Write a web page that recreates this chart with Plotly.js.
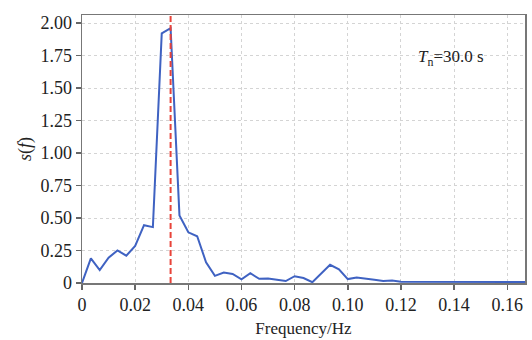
<!DOCTYPE html>
<html>
<head>
<meta charset="utf-8">
<script src="https://cdn.plot.ly/plotly-3.0.1.min.js"></script>
<style>html,body{margin:0;padding:0;background:#fff;}#chart{width:532px;height:340px;}</style>
</head>
<body>
<div id="chart"></div>
<script>
// Spectrum values at frequency step 1/300 Hz
var freqStep = 1 / 300;
var spectrum = [
  0.00, 0.19, 0.10, 0.195, 0.25, 0.21, 0.285, 0.445, 0.43, 1.92,
  1.96, 0.52, 0.39, 0.36, 0.16, 0.055, 0.08, 0.07, 0.028, 0.075,
  0.032, 0.035, 0.025, 0.015, 0.052, 0.038, 0.006, 0.075, 0.14, 0.105,
  0.03, 0.042, 0.035, 0.025, 0.015, 0.02, 0.01, 0.01, 0.01, 0.009,
  0.009, 0.008, 0.008, 0.008, 0.007, 0.007, 0.007, 0.007, 0.008, 0.007,
  0.008
];
var frequency = spectrum.map(function (_, i) { return i * freqStep; });
var peakFrequency = 1 / 30;
var xTickVals = [0, 0.02, 0.04, 0.06, 0.08, 0.10, 0.12, 0.14, 0.16];
var xTickText = ['0', '0.02', '0.04', '0.06', '0.08', '0.10', '0.12', '0.14', '0.16'];
var yTickVals = [0, 0.25, 0.5, 0.75, 1.0, 1.25, 1.5, 1.75, 2.0];
var yTickText = ['0', '0.25', '0.50', '0.75', '1.00', '1.25', '1.50', '1.75', '2.00'];
var annotationText = '<i>T</i><sub>n</sub>=30.0 s';

var serif = '"Liberation Serif", "DejaVu Serif", serif';
var trace = {
  x: frequency, y: spectrum, type: 'scatter', mode: 'lines',
  line: {color: '#3f62c2', width: 2}, hoverinfo: 'skip'
};
var layout = {
  width: 532, height: 340,
  margin: {l: 82, r: 7, t: 15, b: 57},
  paper_bgcolor: '#fff', plot_bgcolor: '#fff',
  showlegend: false,
  font: {family: serif, color: '#222', size: 18},
  xaxis: {
    range: [0, 1 / 6], tickvals: xTickVals, ticktext: xTickText,
    ticks: 'outside', ticklen: 5, tickcolor: '#666', tickwidth: 1.5,
    showline: true, linecolor: '#777', linewidth: 1.5, mirror: true,
    showgrid: true, gridcolor: '#d4d4d4', griddash: 'dot', gridwidth: 1,
    zeroline: false, tickfont: {family: serif, size: 18, color: '#222'},
    title: {text: 'Frequency/Hz', font: {family: serif, size: 17, color: '#222'}, standoff: 8}
  },
  yaxis: {
    range: [0, 2.062], tickvals: yTickVals, ticktext: yTickText,
    ticks: 'outside', ticklen: 5, tickcolor: '#666', tickwidth: 1.5,
    showline: true, linecolor: '#777', linewidth: 1.5, mirror: true,
    showgrid: true, gridcolor: '#d4d4d4', griddash: 'dot', gridwidth: 1,
    zeroline: false, tickfont: {family: serif, size: 18, color: '#222'},
    title: {text: '<i>s</i>(<i>f</i>)', font: {family: serif, size: 18, color: '#222'}, standoff: 4}
  },
  shapes: [{
    type: 'line', xref: 'x', yref: 'paper', x0: peakFrequency, x1: peakFrequency, y0: 0, y1: 1,
    line: {color: '#e8443a', width: 2, dash: '6px,3px'}
  }],
  annotations: [{
    x: 0.1255, y: 1.73, xref: 'x', yref: 'y', xanchor: 'left', yanchor: 'middle',
    text: annotationText, showarrow: false,
    font: {family: serif, size: 17, color: '#222'}
  }]
};
Plotly.newPlot('chart', [trace], layout, {displayModeBar: false, staticPlot: true});
</script>
</body>
</html>
